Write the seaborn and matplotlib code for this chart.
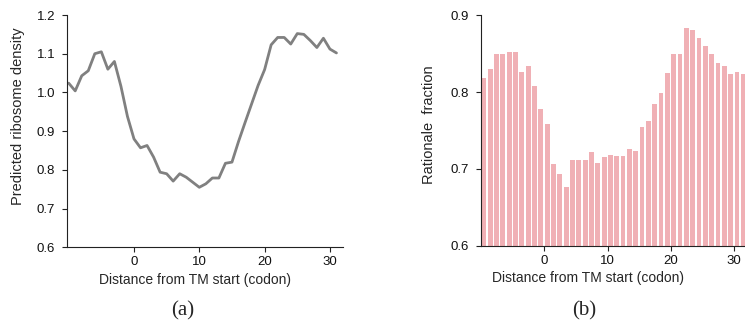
import matplotlib
matplotlib.use('Agg')
import matplotlib.pyplot as plt
import seaborn as sns
import numpy as np

# distance from TM start, in codons
codon = list(range(-10, 32))

# (a) predicted ribosome density
density = [1.024, 1.004, 1.043, 1.056, 1.100, 1.105, 1.060, 1.080, 1.016, 0.938,
           0.880, 0.857, 0.863, 0.833, 0.794, 0.790, 0.771, 0.790, 0.781, 0.768,
           0.755, 0.764, 0.779, 0.779, 0.817, 0.820, 0.873, 0.922, 0.970, 1.018,
           1.059, 1.123, 1.142, 1.142, 1.125, 1.152, 1.150, 1.134, 1.116, 1.140,
           1.112, 1.102]

# (b) rationale fraction
rationale = [0.819, 0.830, 0.850, 0.849, 0.852, 0.852, 0.826, 0.834, 0.808, 0.778,
             0.759, 0.706, 0.693, 0.677, 0.711, 0.712, 0.712, 0.722, 0.708, 0.715,
             0.718, 0.717, 0.717, 0.726, 0.723, 0.754, 0.763, 0.784, 0.799, 0.825,
             0.850, 0.849, 0.883, 0.881, 0.870, 0.860, 0.850, 0.838, 0.834, 0.824,
             0.826, 0.823]

xticks = [0, 10, 20, 30]

sns.set_style('ticks')
plt.rcParams['font.family'] = ['Liberation Sans', 'DejaVu Sans']
plt.rcParams['axes.edgecolor'] = '#222222'
plt.rcParams['axes.linewidth'] = 0.8

fig = plt.figure(figsize=(7.45, 3.24), dpi=100)
ax1 = fig.add_axes([0.0899, 0.2367, 0.3705, 0.717])
ax2 = fig.add_axes([0.6452, 0.2417, 0.3548, 0.711])

# left: line
sns.lineplot(x=codon, y=density, ax=ax1, color='#808080', linewidth=2.0)
ax1.set_xlim(-10.26, 32.0)
ax1.set_ylim(0.6, 1.2)
ax1.set_yticks([0.6, 0.7, 0.8, 0.9, 1.0, 1.1, 1.2])
ax1.set_yticklabels([f'{v:.1f}' for v in [0.6, 0.7, 0.8, 0.9, 1.0, 1.1, 1.2]])
ax1.set_xticks(xticks)
ax1.set_ylabel('Predicted ribosome density', fontsize=10.5, va='center')
ax1.yaxis.set_label_coords(-0.178, 0.565)

# right: bars, left edge of each bar sits on its codon
bar_pos = np.array(codon) + 0.45
sns.barplot(x=bar_pos, y=rationale, ax=ax2, native_scale=True, width=0.75,
            color='#f0b0b5', saturation=1, linewidth=0)
ax2.set_xlim(-10.05, 31.7)
ax2.set_ylim(0.6, 0.9)
ax2.set_yticks([0.6, 0.7, 0.8, 0.9])
ax2.set_yticklabels(['0.6', '0.7', '0.8', '0.9'])
ax2.set_xticks(xticks)
ax2.set_xticklabels([str(t) for t in xticks])
ax2.set_ylabel('Rationale  fraction', fontsize=10.5, va='center')
ax2.yaxis.set_label_coords(-0.194, 0.524)

for ax, xc in [(ax1, 0.464), (ax2, 0.406)]:
    sns.despine(ax=ax)
    ax.tick_params(direction='out', length=3.5, width=0.8, labelsize=9.5,
                   pad=5, colors='#222222', labelcolor='#111111')
    ax.tick_params(axis='x', pad=3)
    ax.set_xlabel('Distance from TM start (codon)', fontsize=10, va='center')
    ax.xaxis.set_label_coords(xc, -0.14)

fig.text(183 / 745, 1 - 311 / 324, '(a)', ha='center', va='center',
         fontsize=15, family=['Liberation Serif', 'DejaVu Serif'])
fig.text(584 / 745, 1 - 311 / 324, '(b)', ha='center', va='center',
         fontsize=15, family=['Liberation Serif', 'DejaVu Serif'])

fig.savefig('out.png', dpi=100)
plt.close(fig)
